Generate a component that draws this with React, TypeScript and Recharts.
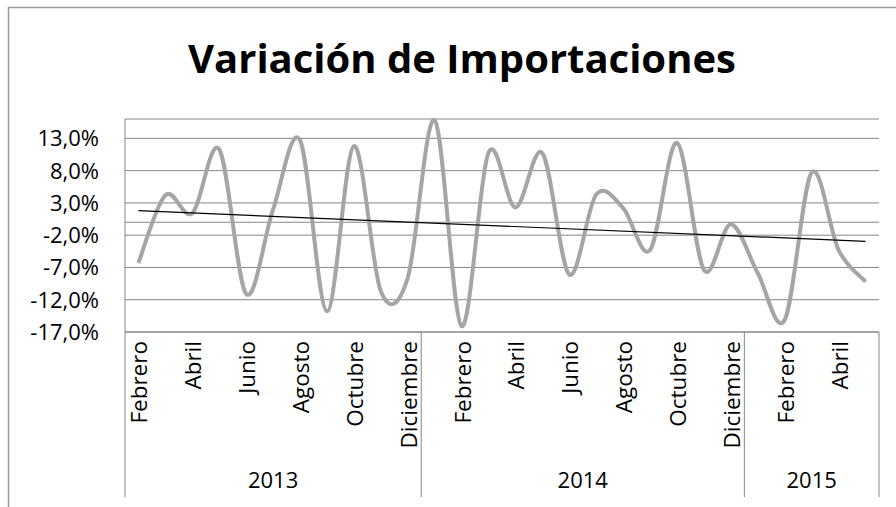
import React from "react";
import { ComposedChart, Line, XAxis, YAxis, CartesianGrid, ReferenceLine, Customized } from "recharts";

const months = [
  "Febrero", "Marzo", "Abril", "Mayo", "Junio", "Julio", "Agosto", "Septiembre", "Octubre", "Noviembre", "Diciembre",
  "Enero", "Febrero", "Marzo", "Abril", "Mayo", "Junio", "Julio", "Agosto", "Septiembre", "Octubre", "Noviembre", "Diciembre",
  "Enero", "Febrero", "Marzo", "Abril", "Mayo",
];
const yearLabels = ["2013", "2014", "2015"];
const yearCounts = [11, 12, 5];
const variation = [
  -6.3, 4.2, 1.4, 11.3, -11.1, 2.0, 12.7, -13.8, 11.8, -10.7, -8.6,
  15.8, -16.1, 10.8, 2.3, 10.7, -8.1, 4.3, 2.2, -4.3, 12.3, -7.4, -0.3,
  -7.9, -15.1, 7.7, -4.3, -9.2,
];
const trendStart = 1.8;
const trendEnd = -2.95;
const yTicks = [-17, -12, -7, -2, 3, 8, 13];
const yDomain = [-17, 16];
const title = "Variación de Importaciones";

const yearOf: string[] = [];
yearLabels.forEach((y, i) => {
  for (let k = 0; k < yearCounts[i]; k++) yearOf.push(y);
});
const data = months.map((m, i) => ({ key: `${yearOf[i]}-${i}`, month: m, year: yearOf[i], value: variation[i] }));

const groups = yearLabels.map((y, i) => ({
  year: y,
  start: yearCounts.slice(0, i).reduce((a, b) => a + b, 0),
  count: yearCounts[i],
}));

const FONT = "'Open Sans', sans-serif";
const AXIS_GRAY = "#868686";

// Excel-like smoothed line (Catmull-Rom Bezier)
const excelCurve: any = (context: any) => {
  let pts: [number, number][] = [];
  return {
    areaStart() {},
    areaEnd() {},
    lineStart() {
      pts = [];
    },
    lineEnd() {
      const n = pts.length;
      if (!n) return;
      context.moveTo(pts[0][0], pts[0][1]);
      const t = 1 / 6;
      for (let i = 0; i < n - 1; i++) {
        const p0 = pts[Math.max(i - 1, 0)];
        const p1 = pts[i];
        const p2 = pts[i + 1];
        const p3 = pts[Math.min(i + 2, n - 1)];
        context.bezierCurveTo(
          p1[0] + (p2[0] - p0[0]) * t,
          p1[1] + (p2[1] - p0[1]) * t,
          p2[0] - (p3[0] - p1[0]) * t,
          p2[1] - (p3[1] - p1[1]) * t,
          p2[0],
          p2[1]
        );
      }
    },
    point(x: number, y: number) {
      pts.push([+x, +y]);
    },
  };
};

const YTick = (props: any) => {
  const { x, y, payload } = props;
  const label = Number(payload.value).toFixed(1).replace(".", ",") + "%";
  return (
    <text x={x} y={y} dy="0.36em" textAnchor="end" fontFamily={FONT} fontSize={22} fill="#000">
      {label}
    </text>
  );
};

const XTick = (props: any) => {
  const { x, y, payload, index } = props;
  const i = typeof index === "number" ? index : payload.index;
  const half = payload.offset || 13.46;
  const top = y;
  const bottom = top + 165;
  const els: any[] = [];
  if (i % 2 === 0) {
    els.push(
      <text
        key="m"
        x={x + 9}
        y={top + 9}
        transform={`rotate(-90 ${x + 9} ${top + 9})`}
        textAnchor="end"
        fontFamily={FONT}
        fontSize={22.5}
        fill="#000"
      >
        {months[i]}
      </text>
    );
  }
  groups.forEach((g) => {
    if (g.start === i) {
      els.push(<line key={"l" + g.year} x1={x - half} x2={x - half} y1={top} y2={bottom} stroke={AXIS_GRAY} strokeWidth={1} />);
    }
    if (g.start + g.count - 1 === i && i === months.length - 1) {
      els.push(<line key="lend" x1={x + half} x2={x + half} y1={top} y2={bottom} stroke={AXIS_GRAY} strokeWidth={1} />);
    }
    const mid = g.start + (g.count - 1) / 2;
    if (Math.floor(mid) === i) {
      const cx = x + (mid - i) * 2 * half;
      els.push(
        <text key={"y" + g.year} x={cx} y={top + 156} textAnchor="middle" fontFamily={FONT} fontSize={22} fill="#000">
          {g.year}
        </text>
      );
    }
  });
  return <g>{els}</g>;
};

const Frame = () => (
  <g>
    <rect x={8.5} y={7.5} width={920} height={520} fill="none" stroke="#9a9a9a" strokeWidth={1.5} />
    <text x={462} y={73} textAnchor="middle" fontFamily={FONT} fontWeight={700} fontSize={40} fill="#000">
      {title}
    </text>
  </g>
);

export default function App() {
  return (
    <div style={{ position: "absolute", left: 0, top: 0, background: "#fff" }}>
      <ComposedChart width={896} height={507} data={data} margin={{ top: 119, right: 17, bottom: 10, left: 0 }}>
        <Customized component={Frame} />
        <CartesianGrid horizontal={true} vertical={false} stroke={AXIS_GRAY} strokeWidth={1} />
        <XAxis
          dataKey="key"
          scale="band"
          interval={0}
          height={165}
          tickSize={0}
          tickMargin={0}
          axisLine={{ stroke: AXIS_GRAY }}
          tickLine={false}
          tick={<XTick />}
        />
        <YAxis
          type="number"
          domain={yDomain}
          ticks={yTicks}
          width={125}
          tickSize={0}
          tickMargin={26}
          axisLine={{ stroke: AXIS_GRAY }}
          tickLine={false}
          tick={<YTick />}
        />
        <ReferenceLine y={0} stroke={AXIS_GRAY} strokeWidth={1} />
        <Line
          dataKey="value"
          type={excelCurve}
          stroke="#a5a5a5"
          strokeWidth={4}
          dot={false}
          activeDot={false}
          isAnimationActive={false}
        />
        <ReferenceLine
          segment={[
            { x: data[0].key, y: trendStart },
            { x: data[data.length - 1].key, y: trendEnd },
          ]}
          stroke="#000"
          strokeWidth={1.2}
          ifOverflow="visible"
        />
      </ComposedChart>
    </div>
  );
}
